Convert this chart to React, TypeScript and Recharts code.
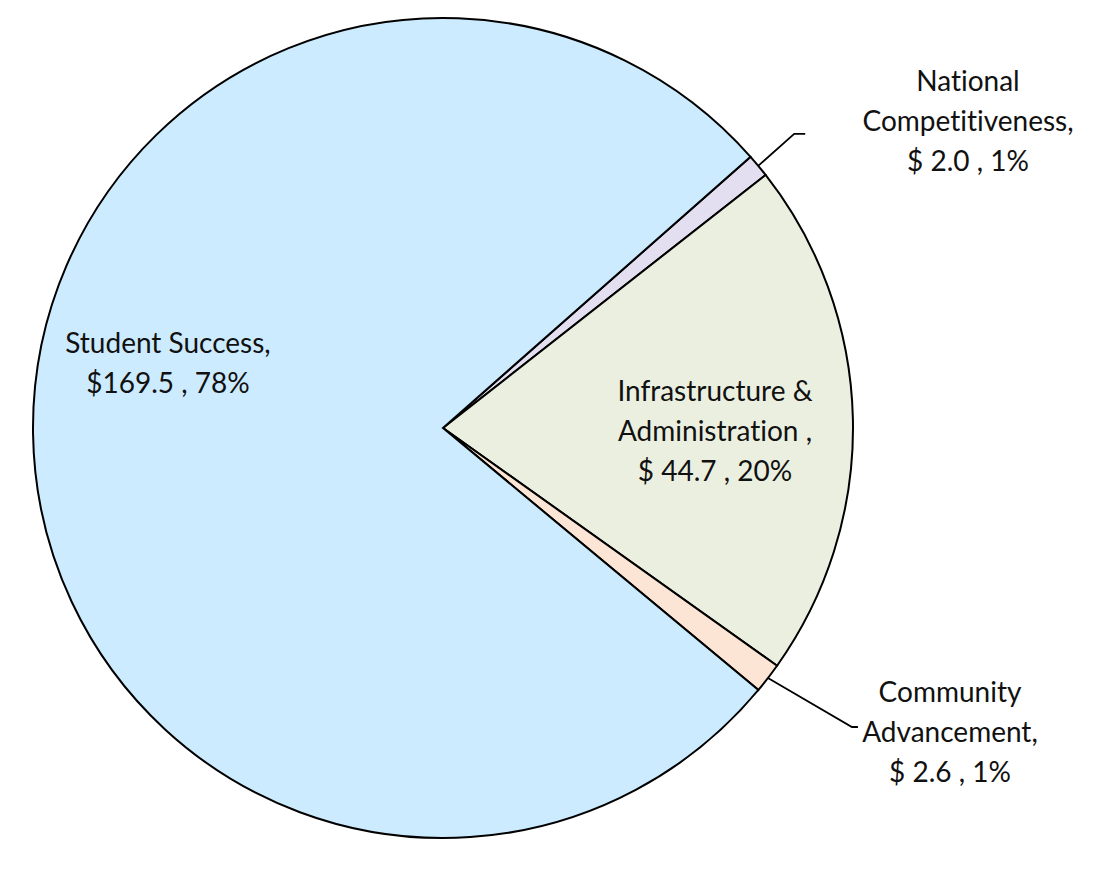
import { PieChart, Pie, Cell } from 'recharts'

const categories = ['National Competitiveness', 'Infrastructure & Administration', 'Community Advancement', 'Student Success']
const amounts = [2.0, 44.7, 2.6, 169.5]
const percents = ['1%', '20%', '1%', '78%']
const labelLines = [
  ['National', 'Competitiveness,', '$ 2.0 , 1%'],
  ['Infrastructure &', 'Administration ,', '$ 44.7 , 20%'],
  ['Community', 'Advancement,', '$ 2.6 , 1%'],
  ['Student Success,', '$169.5 , 78%'],
]

const COLORS = ['#e4dff0', '#ebefdf', '#fde5d5', '#ccebff']

// label placement relative to the pie centre; leader = outside label with a line
const LABEL_LAYOUT = [
  { dx: 525, dy: -308, leader: true },
  { dx: 272, dy: 2, leader: false },
  { dx: 507, dy: 303, leader: true },
  { dx: -275, dy: -66, leader: false },
]

const data = categories.map((name, i) => ({ name, value: amounts[i], pct: percents[i] }))

const RADIAN = Math.PI / 180
const LINE_H = 40

function renderLabel(props: any) {
  const { cx, cy, midAngle, outerRadius, index } = props
  const layout = LABEL_LAYOUT[index]
  const lines = labelLines[index]
  const tx = cx + layout.dx
  const ty = cy + layout.dy
  let leader = null
  if (layout.leader) {
    const sx = cx + outerRadius * Math.cos(-midAngle * RADIAN)
    const sy = cy + outerRadius * Math.sin(-midAngle * RADIAN)
    const pts = index === 0
      ? [[sx, sy], [sx + 36, sy - 32], [sx + 47, sy - 32]]
      : [[sx, sy], [sx + 84, sy + 49], [sx + 90, sy + 49]]
    leader = <polyline points={pts.map((p) => p.join(',')).join(' ')} fill="none" stroke="#000" strokeWidth={1.8} />
  }
  const top = ty - ((lines.length - 1) * LINE_H) / 2
  return (
    <g key={`lbl-${index}`}>
      {leader}
      <text
        x={tx}
        y={top}
        textAnchor="middle"
        dominantBaseline="central"
        fill="#111"
        fontSize={28}
        fontFamily="Lato, 'Open Sans', sans-serif"
        style={{ fontVariantLigatures: 'none' }}
      >
        {lines.map((l, i) => (
          <tspan key={i} x={tx} y={top + i * LINE_H}>{l}</tspan>
        ))}
      </text>
    </g>
  )
}

export default function App() {
  return (
    <div style={{ width: 1101, height: 878, background: '#fff' }}>
      <style>{'body{margin:0}'}</style>
      <PieChart width={1101} height={878} margin={{ top: 0, right: 0, bottom: 0, left: 0 }}>
        <Pie
          data={data}
          dataKey="value"
          nameKey="name"
          cx={443}
          cy={428}
          outerRadius={410}
          startAngle={41.4}
          endAngle={-318.6}
          stroke="#000"
          strokeWidth={2}
          label={renderLabel}
          labelLine={false}
          isAnimationActive={false}
        >
          {data.map((d, i) => (
            <Cell key={d.name} fill={COLORS[i]} />
          ))}
        </Pie>
      </PieChart>
    </div>
  )
}
